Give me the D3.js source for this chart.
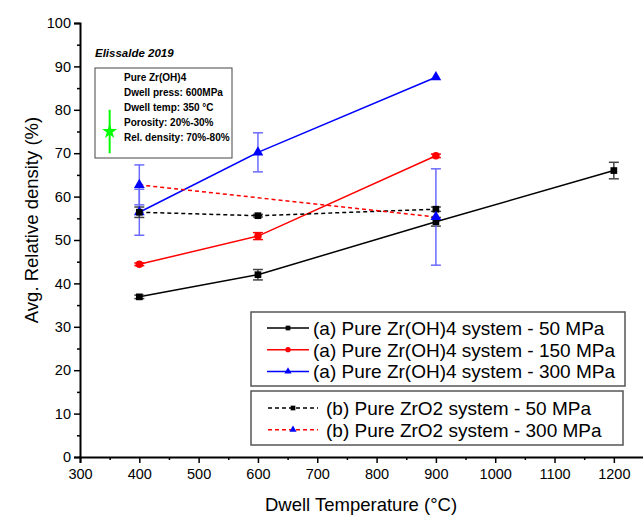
<!DOCTYPE html>
<html>
<head>
<meta charset="utf-8">
<script src="https://cdn.jsdelivr.net/npm/d3@7"></script>
<style>
  body { margin: 0; background: #fff; }
  svg { font-family: "Liberation Sans", Arial, sans-serif; }
</style>
</head>
<body>
<svg id="chart" width="643" height="518"></svg>
<script>
// data
const tempsA50 = [400, 600, 900, 1200];
const densA50 = [36.9, 42.0, 54.2, 66.0];
const errA50 = [0.4, 1.2, 1.0, 1.9];

const tempsA150 = [400, 600, 900];
const densA150 = [44.4, 50.9, 69.4];
const errA150 = [0.3, 0.8, 0.4];

const tempsA300 = [400, 600, 900];
const densA300 = [56.4, 70.2, 87.5];
const errA300 = [5.3, 4.5, 0];

const tempsB50 = [400, 600, 900];
const densB50 = [56.4, 55.6, 57.1];
const errB50 = [1.2, 0.3, 0.5];

const tempsB300 = [400, 900];
const densB300 = [62.7, 55.3];
const errB300 = [4.6, 11.1];

const refTemp = [350];
const refDens = [75];
const refErr = [5];

const xTicks = [300, 400, 500, 600, 700, 800, 900, 1000, 1100, 1200];
const yTicks = [0, 10, 20, 30, 40, 50, 60, 70, 80, 90, 100];

const legendA = ["(a) Pure Zr(OH)4 system - 50 MPa", "(a) Pure Zr(OH)4 system - 150 MPa", "(a) Pure Zr(OH)4 system - 300 MPa"];
const legendB = ["(b) Pure ZrO2 system - 50 MPa", "(b) Pure ZrO2 system - 300 MPa"];
const insetLines = ["Pure Zr(OH)4", "Dwell press: 600MPa", "Dwell temp: 350 °C", "Porosity: 20%-30%", "Rel. density: 70%-80%"];

const zip = (xs, ys, es) => xs.map((x, i) => ({ x: x, y: ys[i], e: es[i] }));

const series = [
  { values: zip(tempsA50, densA50, errA50), color: "#000", errColor: "#444", dash: null, marker: "square" },
  { values: zip(tempsA150, densA150, errA150), color: "#ff0000", errColor: "#ff0000", dash: null, marker: "circle" },
  { values: zip(tempsA300, densA300, errA300), color: "#0000ff", errColor: "#6b6bff", dash: null, marker: "triangle" },
  { values: zip(tempsB50, densB50, errB50), color: "#000", errColor: "#444", dash: "4,3", marker: "square", markerColor: "#000" },
  { values: zip(tempsB300, densB300, errB300), color: "#ff0000", errColor: "#6b6bff", dash: "4,3", marker: "triangle", markerColor: "#0000ff" }
];

const svg = d3.select("#chart");

const x = d3.scaleLinear().domain([300, 1250]).range([80, 643.5]);
const y = d3.scaleLinear().domain([0, 100]).range([457, 23]);

const symbolFor = {
  square: d3.symbol().type(d3.symbolSquare).size(45),
  circle: d3.symbol().type(d3.symbolCircle).size(45),
  triangle: d3.symbol().type(d3.symbolTriangle).size(50),
  star: d3.symbol().type(d3.symbolStar).size(70)
};

// axes
const xAxis = svg.append("g")
  .attr("transform", `translate(0,${y(0)})`)
  .call(d3.axisBottom(x).tickValues(xTicks).tickSize(6).tickFormat(d3.format("d")));
xAxis.selectAll("text").style("font-size", "14.5px").attr("dy", "0.9em");
svg.append("g")
  .attr("transform", `translate(0,${y(0)})`)
  .call(d3.axisBottom(x).tickValues(d3.range(350, 1250, 100)).tickSize(3).tickFormat(""))
  .select(".domain").remove();

const yAxis = svg.append("g")
  .attr("transform", `translate(${x(300)},0)`)
  .call(d3.axisLeft(y).tickValues(yTicks).tickSize(6));
yAxis.selectAll("text").style("font-size", "14.5px");
svg.append("g")
  .attr("transform", `translate(${x(300)},0)`)
  .call(d3.axisLeft(y).tickValues(d3.range(5, 100, 10)).tickSize(3).tickFormat(""))
  .select(".domain").remove();

svg.selectAll(".domain").attr("stroke-width", 2);
svg.selectAll(".tick line").attr("stroke-width", 1.5);

svg.append("text")
  .attr("transform", "rotate(-90)")
  .attr("x", -220)
  .attr("y", 38)
  .attr("text-anchor", "middle")
  .style("font-size", "18.5px")
  .text("Avg. Relative density (%)");

svg.append("text")
  .attr("x", 361)
  .attr("y", 511)
  .attr("text-anchor", "middle")
  .style("font-size", "18.5px")
  .text("Dwell Temperature (°C)");

const line = d3.line().x(d => x(d.x)).y(d => y(d.y));

// lines
series.forEach(s => {
  svg.append("path")
    .datum(s.values)
    .attr("d", line)
    .attr("fill", "none")
    .attr("stroke", s.color)
    .attr("stroke-width", 1.5)
    .attr("stroke-dasharray", s.dash);
});

// error bars
function drawErrors(values, color, width) {
  const g = svg.append("g").attr("stroke", color).attr("stroke-width", width);
  values.filter(d => d.e > 0).forEach(d => {
    g.append("line").attr("x1", x(d.x)).attr("x2", x(d.x)).attr("y1", y(d.y - d.e)).attr("y2", y(d.y + d.e));
    g.append("line").attr("x1", x(d.x) - 5).attr("x2", x(d.x) + 5).attr("y1", y(d.y - d.e)).attr("y2", y(d.y - d.e));
    g.append("line").attr("x1", x(d.x) - 5).attr("x2", x(d.x) + 5).attr("y1", y(d.y + d.e)).attr("y2", y(d.y + d.e));
  });
}
series.forEach(s => drawErrors(s.values, s.errColor, 1.5));

// markers
series.forEach(s => {
  svg.append("g").selectAll("path")
    .data(s.values)
    .join("path")
    .attr("d", symbolFor[s.marker])
    .attr("transform", d => `translate(${x(d.x)},${y(d.y)})`)
    .attr("fill", s.markerColor || s.color);
});

// inset reference point
svg.append("text")
  .attr("x", 95)
  .attr("y", 57)
  .style("font-size", "11.5px")
  .style("font-weight", "bold")
  .style("font-style", "italic")
  .text("Elissalde 2019");

svg.append("rect")
  .attr("x", 95).attr("y", 68).attr("width", 137).attr("height", 90)
  .attr("fill", "#fff").attr("stroke", "#444").attr("stroke-width", 1);

const refVals = zip(refTemp, refDens, refErr);
refVals.forEach(d => {
  svg.append("line")
    .attr("x1", x(d.x)).attr("x2", x(d.x))
    .attr("y1", y(d.y - d.e)).attr("y2", y(d.y + d.e))
    .attr("stroke", "#00ff00").attr("stroke-width", 2);
});
svg.append("g").selectAll("path")
  .data(refVals)
  .join("path")
  .attr("d", symbolFor.star)
  .attr("transform", d => `translate(${x(d.x)},${y(d.y)})`)
  .attr("fill", "#00ff00");

svg.append("g").selectAll("text")
  .data(insetLines)
  .join("text")
  .attr("x", 124)
  .attr("y", (d, i) => 81 + i * 15)
  .style("font-size", "10px")
  .style("font-weight", "bold")
  .text(d => d);

// legends
function drawLegend(top, h, rowY, items, sampleX0, sampleX1, textX, boxW) {
  const g = svg.append("g");
  g.append("rect")
    .attr("x", 251).attr("y", top).attr("width", boxW).attr("height", h)
    .attr("fill", "#fff").attr("stroke", "#555").attr("stroke-width", 1.5);
  items.forEach((it, i) => {
    const cy = rowY + i * 21.7;
    g.append("line")
      .attr("x1", sampleX0).attr("x2", sampleX1).attr("y1", cy).attr("y2", cy)
      .attr("stroke", it.color).attr("stroke-width", 1.5)
      .attr("stroke-dasharray", it.dash);
    g.append("path")
      .attr("d", d3.symbol().type(it.sym).size(22))
      .attr("transform", `translate(${(sampleX0 + sampleX1) / 2},${cy})`)
      .attr("fill", it.markerColor || it.color);
    g.append("text")
      .attr("x", textX).attr("y", cy + 7)
      .style("font-size", "19px")
      .text(it.label);
  });
}

drawLegend(312, 74, 328, legendA.map((l, i) => ({
  label: l, color: series[i].color, dash: null,
  sym: [d3.symbolSquare, d3.symbolCircle, d3.symbolTriangle][i]
})), 267, 309, 313, 374);

drawLegend(391, 54, 408, legendB.map((l, i) => ({
  label: l, color: series[3 + i].color, dash: "4,3",
  sym: [d3.symbolSquare, d3.symbolTriangle][i],
  markerColor: series[3 + i].markerColor
})), 268, 318, 326, 372);
</script>
</body>
</html>
